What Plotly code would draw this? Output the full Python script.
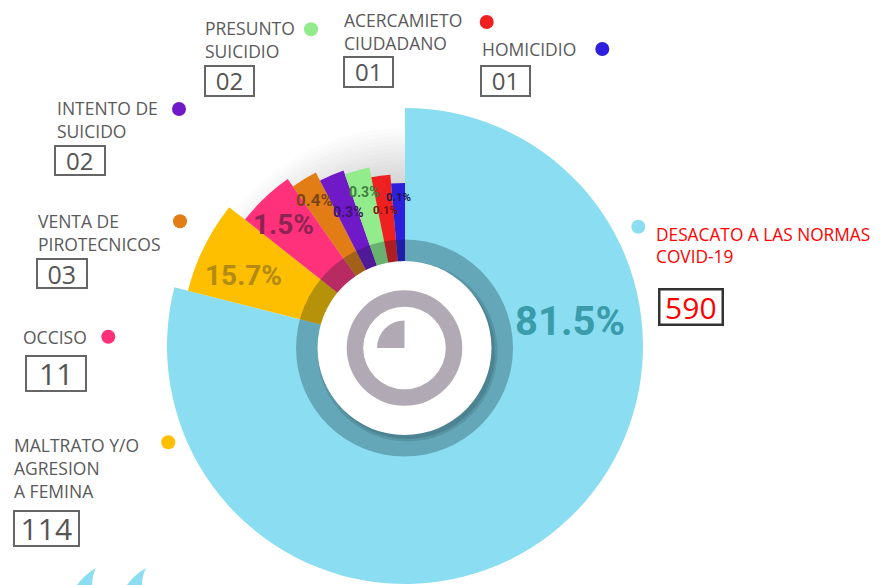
import plotly.graph_objects as go

W, H = 881, 585

# ---------------- data ----------------
categories = ["DESACATO A LAS NORMAS COVID-19", "MALTRATO Y/O AGRESION A FEMINA", "OCCISO",
              "VENTA DE PIROTECNICOS", "INTENTO DE SUICIDO", "PRESUNTO SUICIDIO",
              "ACERCAMIETO CIUDADANO", "HOMICIDIO"]
label_lines = ["DESACATO A LAS NORMAS<br>COVID-19", "MALTRATO Y/O<br>AGRESION<br>A FEMINA", "OCCISO",
               "VENTA DE<br>PIROTECNICOS", "INTENTO DE<br>SUICIDO", "PRESUNTO<br>SUICIDIO",
               "ACERCAMIETO<br>CIUDADANO", "HOMICIDIO"]
counts = [590, 114, 11, 3, 2, 2, 1, 1]
count_text = ["590", "114", "11", "03", "02", "02", "01", "01"]
percent_text = ["81.5%", "15.7%", "1.5%", "0.4%", "0.3%", "0.3%", "0.1%", "0.1%"]

# ---------------- styling / geometry ----------------
colors = ["#8BDEF1", "#FDBF00", "#FE317A", "#E27C15", "#6F19C7", "#92EC8C", "#EF2020", "#2D1FDC"]
slice_start = [0, 284.3, 308.3, 324.9, 332.8, 340.7, 348.7, 355.1]
slice_end = [284.3, 308.3, 324.9, 332.8, 340.7, 348.7, 355.1, 360]
slice_radius = [238, 224, 204, 195, 186, 182, 172, 163]

pct_pos = [(570, 321), (243, 275), (283, 225), (314, 200), (348, 212), (363.5, 192), (385, 210), (398, 197)]
pct_size = [40, 28, 28, 17, 14, 14, 11.5, 11.5]
pct_color = ["#3A9BAB", "#B38A14", "#8E2453", "#7A4513", "#3B1470", "#3E7E3E", "#7A1010", "#1A1550"]
pct_font = "Liberation Sans Narrow, Arial Narrow, Roboto"

label_pos = [(655, 245), (13.3, 468.3), (21.7, 336.7), (36.7, 232.5), (55.7, 119.5),
             (204.3, 39.2), (343.3, 31), (480.7, 48.5)]
dot_pos = [(638.3, 226.7), (168.3, 442.3), (108.3, 336.7), (180, 221.3), (179, 109),
           (311, 29.3), (486.7, 22), (602.3, 49)]
box_geom = [(658.3, 724, 287.7, 326, 30), (13.3, 80, 510, 547.3, 30), (25, 87.3, 354.3, 391.7, 30),
            (35.7, 87.3, 258.3, 289.3, 25), (54.3, 106, 145, 176, 24), (204, 255, 65, 96.7, 24),
            (342.7, 394, 55.7, 87.3, 24), (480, 531, 65, 96.7, 24)]


def fx(x):
    return x / W


def fy(y):
    return 1 - y / H


def polar_domain(cx, cy, R):
    return dict(x=[(cx - R) / W, (cx + R) / W], y=[(H - cy - R) / H, (H - cy + R) / H])


fig = go.Figure()

# soft gray halo behind the small slices
halo_r = list(range(166, 222, 4))
fig.add_trace(go.Barpolar(r=halo_r, theta=[327] * len(halo_r), width=[66] * len(halo_r),
                          marker=dict(color="rgba(0,0,0,0.013)", line=dict(width=0)),
                          subplot="polar", hoverinfo="skip", showlegend=False))

# main slices
fig.add_trace(go.Barpolar(
    r=slice_radius,
    theta=[(s + e) / 2 for s, e in zip(slice_start, slice_end)],
    width=[e - s for s, e in zip(slice_start, slice_end)],
    marker=dict(color=colors, line=dict(width=0)),
    customdata=counts, text=categories,
    hovertemplate="%{text}: %{customdata}<extra></extra>",
    subplot="polar", showlegend=False))

# translucent teal ring
fig.add_trace(go.Barpolar(r=[28.5], base=[80], theta=[180], width=[360],
                          marker=dict(color="rgba(0,25,35,0.28)", line=dict(width=0)),
                          subplot="polar2", hoverinfo="skip", showlegend=False))
# shadow of white disk
fig.add_trace(go.Barpolar(r=[90, 87.5], theta=[180, 180], width=[360, 360],
                          marker=dict(color="rgba(0,20,30,0.13)", line=dict(width=0)),
                          subplot="polar3", hoverinfo="skip", showlegend=False))
# white disk
fig.add_trace(go.Barpolar(r=[87], theta=[180], width=[360],
                          marker=dict(color="white", line=dict(width=0)),
                          subplot="polar4", hoverinfo="skip", showlegend=False))
# gray ring
fig.add_trace(go.Barpolar(r=[16.5], base=[41.3], theta=[180], width=[360],
                          marker=dict(color="#B1A9B3", line=dict(width=0)),
                          subplot="polar4", hoverinfo="skip", showlegend=False))
# quarter pie icon
fig.add_trace(go.Barpolar(r=[27.5], theta=[315], width=[90],
                          marker=dict(color="#B1A9B3", line=dict(width=0)),
                          subplot="polar4", hoverinfo="skip", showlegend=False))

polar_common = dict(
    bgcolor="rgba(0,0,0,0)", barmode="overlay", bargap=0, hole=0,
    angularaxis=dict(visible=False, rotation=90, direction="clockwise"),
)
fig.update_layout(
    polar=dict(domain=polar_domain(405, 346, 239), radialaxis=dict(visible=False, range=[0, 239]),
               **polar_common),
    polar2=dict(domain=polar_domain(404.5, 348, 115), radialaxis=dict(visible=False, range=[0, 115]),
                **polar_common),
    polar3=dict(domain=polar_domain(407.5, 351.5, 115), radialaxis=dict(visible=False, range=[0, 115]),
                **polar_common),
    polar4=dict(domain=polar_domain(404.5, 348, 115), radialaxis=dict(visible=False, range=[0, 115]),
                **polar_common),
)

annotations = []
shapes = []

# percentage labels
for txt, (x, y), sz, col in zip(percent_text, pct_pos, pct_size, pct_color):
    annotations.append(dict(x=fx(x), y=fy(y), xref="paper", yref="paper", text=txt, showarrow=False,
                            xanchor="center", yanchor="middle", borderpad=0,
                            font=dict(family=pct_font, size=sz, color=col, weight="bold")))

# category labels, dots and boxes
for i, (lab, (lx, ly), (dx, dy), (bx0, bx1, by0, by1, bfs), ctext) in enumerate(
        zip(label_lines, label_pos, dot_pos, box_geom, count_text)):
    is_main = i == 0
    annotations.append(dict(x=fx(lx), y=fy(ly), xref="paper", yref="paper", text=lab, showarrow=False,
                            xanchor="left", yanchor="middle", align="left", borderpad=0,
                            font=dict(family="Open Sans", size=17.3 if is_main else 17.5,
                                      color="#FF0000" if is_main else "#5A5A5A")))
    bw = 2.5 if is_main else 2
    annotations.append(dict(x=fx((bx0 + bx1) / 2), y=fy((by0 + by1) / 2), xref="paper", yref="paper",
                            text=ctext, showarrow=False, xanchor="center", yanchor="middle",
                            width=(bx1 - bx0) - 2 * bw, height=(by1 - by0) - 2 * bw, align="center",
                            borderpad=0, borderwidth=bw, bordercolor="#333333" if is_main else "#666666",
                            font=dict(family="Open Sans", size=bfs,
                                      color="#FF0000" if is_main else "#555555")))
    shapes.append(dict(type="circle", xref="paper", yref="paper", x0=fx(dx - 7), x1=fx(dx + 7),
                       y0=fy(dy + 7), y1=fy(dy - 7), fillcolor=colors[i], line=dict(width=0)))


def ppath(pts):
    s = ""
    for cmd, coords in pts:
        s += cmd + " " + " ".join(f"{fx(coords[k]):.5f},{fy(coords[k + 1]):.5f}"
                                  for k in range(0, len(coords), 2)) + " "
    return s + "Z"


# decorative cut-off shapes at bottom left
for off in (0, 50):
    shapes.append(dict(type="path", xref="paper", yref="paper", layer="above",
                       path=ppath([("M", [77 + off, 585]), ("Q", [84 + off, 575, 96 + off, 568]),
                                   ("Q", [92 + off, 576, 92 + off, 585])]),
                       fillcolor="#8BDEF1", line=dict(width=0)))

fig.update_layout(width=W, height=H, margin=dict(l=0, r=0, t=0, b=0),
                  paper_bgcolor="white", plot_bgcolor="white",
                  annotations=annotations, shapes=shapes, showlegend=False)

fig.write_html("out.html", config={"displayModeBar": False},
               post_script="document.body.style.margin='0';document.body.style.overflow='hidden';")
